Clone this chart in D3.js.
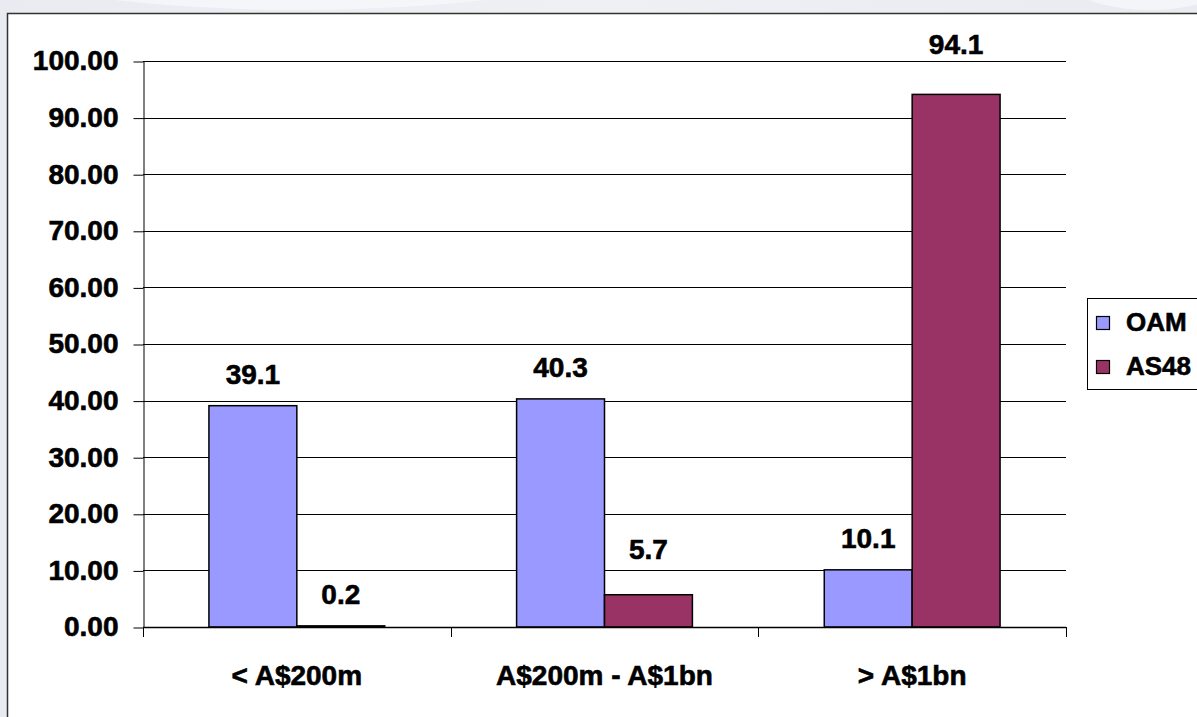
<!DOCTYPE html>
<html>
<head>
<meta charset="utf-8">
<script src="https://cdn.jsdelivr.net/npm/d3@7"></script>
<style>
  html, body { margin: 0; padding: 0; background: #eceef3; }
  svg { display: block; }
  text { font-family: "Liberation Sans", Arial, sans-serif; font-weight: bold; fill: #000; stroke: #000; stroke-width: 0.6px; }
</style>
</head>
<body>
<svg id="chart" width="1197" height="717"></svg>
<script>
// Share of assets by market-cap bucket (%)
const categories = ["< A$200m", "A$200m - A$1bn", "> A$1bn"];
const seriesNames = ["OAM", "AS48"];
const oamValues = [39.1, 40.3, 10.1];
const as48Values = [0.2, 5.7, 94.1];
const yTicks = [0, 10, 20, 30, 40, 50, 60, 70, 80, 90, 100];

const colors = { OAM: "#9999ff", AS48: "#993366" };

const svg = d3.select("#chart");
const W = 1197, H = 717;

// soft backdrop behind the chart frame
const defs = svg.append("defs");
const bg = defs.append("linearGradient").attr("id", "bg").attr("x1", 0).attr("y1", 0).attr("x2", 1).attr("y2", 0);
bg.append("stop").attr("offset", 0).attr("stop-color", "#e9ebf1");
bg.append("stop").attr("offset", 0.5).attr("stop-color", "#eef0f4");
bg.append("stop").attr("offset", 1).attr("stop-color", "#e9ebf1");
svg.append("rect").attr("width", W).attr("height", H).attr("fill", "url(#bg)");
svg.append("ellipse").attr("cx", 300).attr("cy", -140).attr("rx", 520).attr("ry", 150)
  .attr("fill", "#f6f7fa").attr("opacity", 0.8);
svg.append("ellipse").attr("cx", 1150).attr("cy", -60).attr("rx", 120).attr("ry", 70)
  .attr("fill", "#f6f7fa").attr("opacity", 0.8);

// chart frame
svg.append("rect")
  .attr("x", 7.5).attr("y", 13.5).attr("width", W + 20).attr("height", H + 20)
  .attr("fill", "#fff").attr("stroke", "#333").attr("stroke-width", 1.5);

const plot = { left: 143, right: 1066, top: 61, bottom: 627 };

const y = d3.scaleLinear().domain([0, 100]).range([plot.bottom, plot.top]);
const x0 = d3.scaleBand().domain(categories).range([plot.left, plot.right]).padding(0);
const x1 = d3.scaleBand().domain(seriesNames).range([0, x0.bandwidth()])
  .paddingInner(0).paddingOuter(0.75);

const rows = categories.map((c, i) => ({
  category: c,
  values: [
    { key: "OAM", value: oamValues[i] },
    { key: "AS48", value: as48Values[i] }
  ]
}));

// gridlines
svg.append("g")
  .selectAll("line")
  .data(yTicks.filter(t => t > 0))
  .join("line")
  .attr("x1", plot.left).attr("x2", plot.right)
  .attr("y1", d => Math.round(y(d)) + 0.5).attr("y2", d => Math.round(y(d)) + 0.5)
  .attr("stroke", "#000").attr("stroke-width", 1);

// bars
const groups = svg.append("g")
  .selectAll("g")
  .data(rows)
  .join("g")
  .attr("transform", d => `translate(${x0(d.category)},0)`);

groups.selectAll("rect")
  .data(d => d.values)
  .join("rect")
  .attr("x", d => x1(d.key))
  .attr("y", d => y(d.value))
  .attr("width", x1.bandwidth())
  .attr("height", d => y(0) - y(d.value))
  .attr("fill", d => colors[d.key])
  .attr("stroke", "#000")
  .attr("stroke-width", 1.5);

// value labels; a few sit a little higher to clear neighbouring gridlines
const labelLift = { "A$200m - A$1bn|AS48": 14, "> A$1bn|AS48": 18 };
groups.selectAll("text.val")
  .data(d => d.values.map(v => ({ ...v, category: d.category })))
  .join("text")
  .attr("class", "val")
  .attr("x", d => x1(d.key) + x1.bandwidth() / 2)
  .attr("y", d => y(d.value) - 22 - (labelLift[d.category + "|" + d.key] || 0))
  .attr("text-anchor", "middle")
  .style("font-size", "28px")
  .text(d => d3.format(".1f")(d.value));

// y axis
const yAxis = d3.axisLeft(y)
  .tickValues(yTicks)
  .tickFormat(d3.format(".2f"))
  .tickSize(10)
  .tickSizeOuter(0)
  .tickPadding(15);
const gy = svg.append("g")
  .attr("transform", `translate(${plot.left + 0.5},0)`)
  .call(yAxis);
gy.select(".domain").attr("stroke", "#000").attr("stroke-width", 1);
gy.selectAll(".tick line").attr("stroke", "#000").attr("stroke-width", 1)
  .attr("transform", "translate(0,0.5)");
gy.selectAll(".tick text")
  .style("font-family", "'Liberation Sans', Arial, sans-serif")
  .style("font-weight", "bold")
  .style("font-size", "28px")
  .attr("fill", "#000");

// x axis: baseline, category boundary ticks, labels
svg.append("line")
  .attr("x1", plot.left).attr("x2", plot.right)
  .attr("y1", plot.bottom + 0.5).attr("y2", plot.bottom + 0.5)
  .attr("stroke", "#000").attr("stroke-width", 1.5);

const boundaries = categories.map(c => x0(c)).concat([x0(categories[categories.length - 1]) + x0.bandwidth()]);
svg.append("g")
  .selectAll("line")
  .data(boundaries)
  .join("line")
  .attr("x1", d => Math.round(d) + 0.5).attr("x2", d => Math.round(d) + 0.5)
  .attr("y1", plot.bottom).attr("y2", plot.bottom + 10)
  .attr("stroke", "#000").attr("stroke-width", 1);

svg.append("g")
  .selectAll("text")
  .data(categories)
  .join("text")
  .attr("x", d => x0(d) + x0.bandwidth() / 2)
  .attr("y", 685)
  .attr("text-anchor", "middle")
  .style("font-size", "28px")
  .text(d => d);

// legend
const legend = svg.append("g");
legend.append("rect")
  .attr("x", 1087.5).attr("y", 298.5).attr("width", 130).attr("height", 91)
  .attr("fill", "#fff").attr("stroke", "#000").attr("stroke-width", 1);
const items = legend.selectAll("g.item")
  .data(seriesNames)
  .join("g")
  .attr("class", "item")
  .attr("transform", (d, i) => `translate(0,${i * 44})`);
items.append("rect")
  .attr("x", 1096.5).attr("y", 316.5).attr("width", 13).attr("height", 13)
  .attr("fill", d => colors[d]).attr("stroke", "#000").attr("stroke-width", 1.2);
items.append("text")
  .attr("x", 1126).attr("y", 331)
  .style("font-size", "26px")
  .text(d => d);
</script>
</body>
</html>
